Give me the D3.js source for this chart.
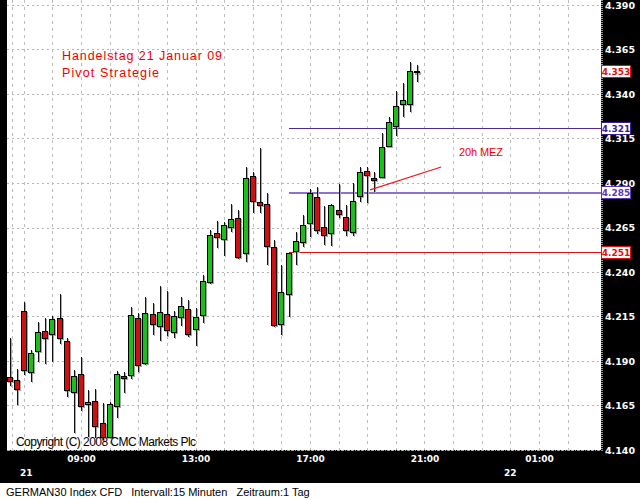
<!DOCTYPE html>
<html><head><meta charset="utf-8">
<script src="https://cdn.jsdelivr.net/npm/d3@7/dist/d3.min.js"></script>
<style>body{margin:0;background:#000}svg{display:block}</style>
</head><body><svg id="c" width="640" height="500"></svg>
<script>
// ---------- DATA ----------
const sessionStart = "2009-01-21T06:30";   // first 15-minute bar
const barMinutes = 15;
const opens  = [4.1810,4.1793,4.2181,4.1838,4.1956,4.2069,4.2052,4.2142,4.2012,4.1726,
                4.1827,4.1658,4.1675,4.1552,4.1473,4.1647,4.1816,4.1821,4.2142,4.1889,
                4.2164,4.2097,4.2164,4.2063,4.2147,4.2192,4.2080,4.2158,4.2344,4.2619,
                4.2585,4.2653,4.2703,4.2507,4.2939,4.2793,4.2782,4.2540,4.2108,4.2276,
                4.2518,4.2569,4.2675,4.2821,4.2653,4.2619,4.2748,4.2709,4.2625,4.2827,
                4.2967,4.2928,4.2934,4.3108,4.3220,4.3344,4.3344,4.3524];
const highs  = [4.2029,4.1855,4.2231,4.1962,4.2119,4.2142,4.2153,4.2276,4.2029,4.1849,
                4.1922,4.1737,4.1743,4.1664,4.1670,4.1844,4.1838,4.2203,4.2170,4.2260,
                4.2226,4.2321,4.2293,4.2181,4.2260,4.2243,4.2198,4.2383,4.2636,4.2687,
                4.2681,4.2782,4.2748,4.2990,4.2962,4.3097,4.2844,4.2580,4.2439,4.2507,
                4.2625,4.2720,4.2866,4.2878,4.2771,4.2782,4.2894,4.2776,4.2900,4.2990,
                4.2990,4.2962,4.3181,4.3271,4.3417,4.3462,4.3580,4.3563];
const lows   = [4.1760,4.1653,4.1821,4.1782,4.1894,4.1883,4.1894,4.1996,4.1698,4.1496,
                4.1619,4.1473,4.1467,4.1456,4.1467,4.1580,4.1720,4.1799,4.1838,4.1878,
                4.2046,4.2012,4.2040,4.2029,4.2097,4.2035,4.1984,4.2114,4.2333,4.2535,
                4.2490,4.2625,4.2473,4.2456,4.2731,4.2731,4.2439,4.2091,4.2046,4.2147,
                4.2439,4.2540,4.2597,4.2614,4.2552,4.2546,4.2703,4.2602,4.2602,4.2793,
                4.2788,4.2849,4.2928,4.3102,4.3164,4.3271,4.3299,4.3467];
const closes = [4.1788,4.1743,4.1849,4.1945,4.2063,4.2029,4.2136,4.2029,4.1737,4.1816,
                4.1647,4.1670,4.1535,4.1473,4.1658,4.1827,4.1804,4.2158,4.1878,4.2170,
                4.2108,4.2175,4.2074,4.2153,4.2209,4.2052,4.2147,4.2349,4.2608,4.2597,
                4.2664,4.2698,4.2484,4.2928,4.2799,4.2776,4.2546,4.2102,4.2288,4.2507,
                4.2574,4.2664,4.2844,4.2636,4.2608,4.2776,4.2726,4.2636,4.2799,4.2962,
                4.2945,4.2917,4.3102,4.3243,4.3333,4.3366,4.3529,4.3529];
const yTickValues = [4.140,4.165,4.190,4.215,4.240,4.265,4.290,4.315,4.340,4.365,4.390];
const xTickTimes  = ["2009-01-21T09:00","2009-01-21T13:00","2009-01-21T17:00","2009-01-21T21:00","2009-01-22T01:00"];
const dayLabels   = ["21","22"];
const dayTimes    = ["2009-01-21T06:30","2009-01-22T00:00"];
const pivotLevels = [4.321, 4.285, 4.251];
const pivotStart  = "2009-01-21T16:15";
const lastPrice   = 4.353;
const arrowTimes  = ["2009-01-21T19:06","2009-01-21T21:35"];
const arrowValues = [4.2861, 4.2990];
const titleLines  = ["Handelstag 21 Januar 09","Pivot Strategie"];
const noteText    = "20h MEZ";
const copyright   = "Copyright (C) 2008 CMC Markets Plc";
const footer      = "GERMAN30 Index CFD   Intervall:15 Minuten   Zeitraum:1 Tag";

// ---------- LAYOUT / STYLE ----------
const W = 640, H = 500;
const plot = {l: 7, r: 601, t: 0, b: 450};
const GREEN = "#18c018", RED = "#d01010";
const pivotColors = ["#4a2a9c", "#8e72cc", "#e01010"];
const pivotWidths = [1, 2, 1];
const boxColors = ["#e01010", "#3c1c98", "#5a38b0", "#e01010"];

const svg = d3.select("#c");
const parse = d3.isoParse;
const t0 = parse(sessionStart);
const bars = opens.map((o, i) => ({
  t: new Date(t0.getTime() + i * barMinutes * 60000),
  o, h: highs[i], l: lows[i], c: closes[i]
}));

const x = d3.scaleTime()
  .domain([parse("2009-01-21T06:30"), parse("2009-01-22T02:00")])
  .range([9.5, 567.6]);
const y = d3.scaleLinear().domain([4.140, 4.390]).range([450, 5]);

// backgrounds
svg.append("rect").attr("width", W).attr("height", H).attr("fill", "#000");
svg.append("rect").attr("x", plot.l).attr("y", plot.t)
  .attr("width", plot.r - plot.l).attr("height", plot.b - plot.t).attr("fill", "#fff");
svg.append("rect").attr("x", 0).attr("y", 483).attr("width", W).attr("height", 17).attr("fill", "#fff");

// grid
const grid = svg.append("g").attr("shape-rendering", "crispEdges");
grid.selectAll("line.h").data(yTickValues).join("line")
  .attr("x1", plot.l).attr("x2", plot.r)
  .attr("y1", d => Math.round(y(d)) + 0.5).attr("y2", d => Math.round(y(d)) + 0.5)
  .attr("stroke", "#b4b4b4").attr("stroke-dasharray", "2,3");
const hourTicks = d3.timeHour.range(parse("2009-01-21T07:00"), parse("2009-01-22T02:30"));
grid.selectAll("line.v").data([parse("2009-01-21T06:35"), ...hourTicks]).join("line")
  .attr("x1", d => Math.round(x(d)) + 0.5).attr("x2", d => Math.round(x(d)) + 0.5)
  .attr("y1", plot.t).attr("y2", plot.b)
  .attr("stroke", "#bdbdbd").attr("stroke-dasharray", "3,4");
// plot borders
svg.append("line").attr("x1", plot.r + 1).attr("x2", plot.r + 1).attr("y1", 0).attr("y2", plot.b + 1)
  .attr("stroke", "#9a9a9a").attr("stroke-width", 2).attr("stroke-dasharray", "1,1");
svg.append("line").attr("x1", plot.l).attr("x2", plot.r).attr("y1", plot.b + 0.5).attr("y2", plot.b + 0.5)
  .attr("stroke", "#9a9a9a").attr("stroke-dasharray", "1,1");

// pivot lines
svg.selectAll("line.pivot").data(pivotLevels).join("line")
  .attr("x1", Math.round(x(parse(pivotStart)))).attr("x2", plot.r)
  .attr("y1", d => Math.round(y(d)) + 0.5).attr("y2", d => Math.round(y(d)) + 0.5)
  .attr("stroke", (d, i) => pivotColors[i]).attr("stroke-width", (d, i) => pivotWidths[i])
  .attr("shape-rendering", "crispEdges");

// candles
const cg = svg.append("g").attr("shape-rendering", "crispEdges");
const candle = cg.selectAll("g").data(bars).join("g")
  .attr("transform", d => `translate(${Math.round(x(d.t))},0)`);
candle.append("line").attr("x1", 1.5).attr("x2", 1.5)
  .attr("y1", d => Math.round(y(d.h)) + 1).attr("y2", d => Math.round(y(d.l)) + 1)
  .attr("stroke", "#a8a8a8");
candle.append("rect").attr("x", -2).attr("width", 6)
  .attr("y", d => Math.round(y(Math.max(d.o, d.c))) + 1)
  .attr("height", d => Math.max(3, Math.round(y(Math.min(d.o, d.c))) - Math.round(y(Math.max(d.o, d.c))) + 1))
  .attr("fill", "#a8a8a8");
candle.append("line").attr("x1", 0.5).attr("x2", 0.5)
  .attr("y1", d => Math.round(y(d.h))).attr("y2", d => Math.round(y(d.l)))
  .attr("stroke", "#111");
candle.append("rect").attr("x", -2.5).attr("width", 5)
  .attr("y", d => Math.round(y(Math.max(d.o, d.c))) + 0.5)
  .attr("height", d => Math.max(1, Math.round(y(Math.min(d.o, d.c))) - Math.round(y(Math.max(d.o, d.c)))))
  .attr("fill", d => d.c >= d.o ? GREEN : RED)
  .attr("stroke", "#000").attr("stroke-width", 1);

// arrow line
svg.append("line")
  .attr("x1", x(parse(arrowTimes[0]))).attr("y1", y(arrowValues[0]))
  .attr("x2", x(parse(arrowTimes[1]))).attr("y2", y(arrowValues[1]))
  .attr("stroke", "#ee1c1c").attr("stroke-width", 1.2);

// texts in plot
const sans = "'Liberation Sans', Arial, sans-serif";
svg.append("text").attr("x", 62).attr("y", 60).text(titleLines[0])
  .attr("font-family", sans).attr("font-size", 12.5).attr("fill", "#ee0000")
  .attr("textLength", 160).attr("lengthAdjust", "spacing");
svg.append("text").attr("x", 62).attr("y", 77).text(titleLines[1])
  .attr("font-family", sans).attr("font-size", 12.5).attr("fill", "#ee0000")
  .attr("textLength", 97).attr("lengthAdjust", "spacing");
svg.append("text").attr("x", 459).attr("y", 156).text(noteText)
  .attr("font-family", sans).attr("font-size", 11).attr("fill", "#ee0000")
  .attr("textLength", 44).attr("lengthAdjust", "spacing");
svg.append("text").attr("x", 16).attr("y", 446).text(copyright)
  .attr("font-family", sans).attr("font-size", 12).attr("fill", "#000")
  .attr("textLength", 180).attr("lengthAdjust", "spacing");

// y axis
const axisFont = "'DejaVu Sans', Verdana, sans-serif";
const yAxis = d3.axisRight(y).tickValues(yTickValues).tickSize(0).tickPadding(0)
  .tickFormat(d3.format(".3f"));
const yg = svg.append("g").attr("transform", `translate(605,0)`).call(yAxis);
yg.select(".domain").remove();
yg.selectAll("text").attr("fill", "#fff").attr("font-family", axisFont)
  .attr("font-weight", "bold").attr("font-size", 9.5).attr("dy", "0.35em");

// x axis
const xAxis = d3.axisBottom(x).tickValues(xTickTimes.map(parse)).tickSize(0).tickPadding(0)
  .tickFormat(d3.timeFormat("%H:%M"));
const xg = svg.append("g").attr("transform", `translate(0,455)`).call(xAxis);
xg.select(".domain").remove();
xg.selectAll("text").attr("fill", "#fff").attr("font-family", axisFont)
  .attr("font-weight", "bold").attr("font-size", 9).attr("dy", "0.8em");
svg.selectAll("text.day").data(dayLabels).join("text").attr("class", "day")
  .attr("x", (d, i) => i === 0 ? 20 : x(parse(dayTimes[i])))
  .attr("text-anchor", (d, i) => i === 0 ? "start" : "middle")
  .attr("y", 476).text(d => d)
  .attr("fill", "#fff").attr("font-family", axisFont).attr("font-weight", "bold").attr("font-size", 9);

// price boxes
const boxVals = [lastPrice, ...pivotLevels];
const bg = svg.selectAll("g.box").data(boxVals).join("g").attr("class", "box")
  .attr("transform", d => `translate(601,${Math.round(y(d)) + 1})`);
bg.append("rect").attr("x", 0.5).attr("y", -6.5).attr("width", 29).attr("height", 12)
  .attr("fill", "#fff").attr("stroke", (d, i) => boxColors[i]).attr("shape-rendering", "crispEdges");
bg.append("text").attr("x", 15).attr("y", 0).attr("dy", "0.35em").attr("text-anchor", "middle")
  .text(d => d3.format(".3f")(d)).attr("fill", (d, i) => boxColors[i])
  .attr("font-family", axisFont).attr("font-weight", "bold").attr("font-size", 9);

// footer
svg.append("text").attr("x", 6).attr("y", 496).text(footer)
  .attr("font-family", sans).attr("font-size", 11).attr("fill", "#000")
  .style("white-space", "pre").attr("xml:space", "preserve");
</script></body></html>
